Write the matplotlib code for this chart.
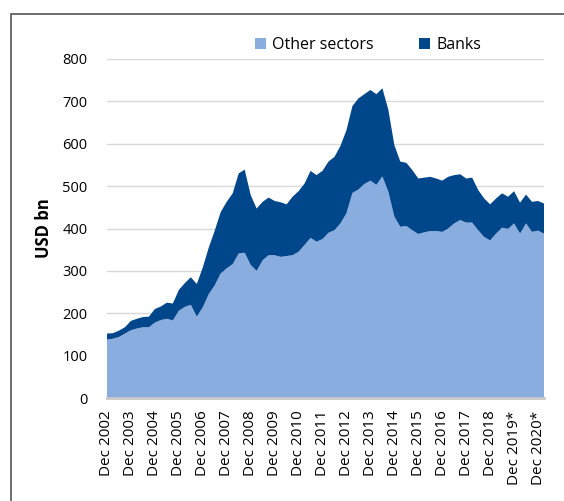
import matplotlib.pyplot as plt
from matplotlib.patches import Rectangle

# kwartalne dane, Dec 2002 .. Mar 2021 (USD bn)
total = [152, 153, 159, 167, 182, 187, 191, 192, 210, 216, 225, 223, 255, 271, 285, 269,
         308, 355, 395, 439, 463, 483, 530, 539, 479, 447, 463, 473, 465, 462, 457, 475,
         488, 506, 536, 526, 536, 558, 569, 595, 632, 689, 707, 717, 727, 717, 731, 680,
         597, 558, 555, 538, 518, 520, 522, 518, 513, 522, 526, 528, 518, 520, 491, 471,
         457, 471, 483, 475, 488, 461, 480, 463, 465, 459]
other = [138, 140, 144, 152, 160, 164, 167, 167, 178, 184, 187, 183, 206, 215, 220, 192,
         214, 245, 266, 294, 306, 316, 341, 343, 314, 300, 325, 337, 337, 333, 335, 337,
         345, 361, 378, 369, 375, 390, 396, 412, 436, 484, 492, 505, 513, 503, 523, 487,
         428, 404, 406, 396, 387, 391, 394, 394, 392, 400, 412, 420, 414, 414, 396, 380,
         372, 388, 402, 399, 412, 388, 412, 392, 395, 388]
banks = [t - o for t, o in zip(total, other)]

years = list(range(2002, 2021))
tick_labels = ["Dec %d" % y for y in years[:-2]] + ["Dec 2019*", "Dec 2020*"]

jasny = '#8aaddf'
ciemny = '#00468b'

plt.rcParams['font.family'] = ['Open Sans', 'DejaVu Sans']

fig = plt.figure(figsize=(5.64, 5.01), dpi=100)
ax = fig.add_axes([107 / 564, 1 - 398 / 501, 437 / 564, 339 / 501])

x = list(range(len(total)))
ax.stackplot(x, other, banks, colors=[jasny, ciemny], labels=['Other sectors', 'Banks'])

ax.set_xlim(0, len(total) - 1)
ax.set_ylim(0, 800)
ax.set_yticks(range(0, 801, 100))
ax.set_xticks([i * 4 for i in range(len(tick_labels))])
ax.set_xticklabels(tick_labels, rotation=90, fontsize=11)
ax.tick_params(axis='y', length=0, pad=14, labelsize=10.5)
ax.tick_params(axis='x', length=0, pad=9)

ax.grid(axis='y', color='#d9d9d9', linewidth=1)
ax.set_axisbelow(True)
for s in ['top', 'right', 'left']:
    ax.spines[s].set_visible(False)
ax.spines['bottom'].set_color('#c8c8c8')
ax.spines['bottom'].set_linewidth(2)
ax.spines['bottom'].set_zorder(5)

ax.set_ylabel('USD bn', fontsize=12, fontweight='bold', labelpad=7)

fig.legend(loc='center', bbox_to_anchor=(368 / 564, 1 - 45 / 501), ncol=2, frameon=False,
           fontsize=11.5, handlelength=0.7, handleheight=0.7, handletextpad=0.4,
           columnspacing=2.8)

# ramka wokol wykresu
fig.patches.append(Rectangle((11 / 564, -0.1), 2, 1.1 - 14 / 501, transform=fig.transFigure,
                             fill=False, edgecolor='#555555', linewidth=1.2))

fig.savefig('out.png', dpi=100)
